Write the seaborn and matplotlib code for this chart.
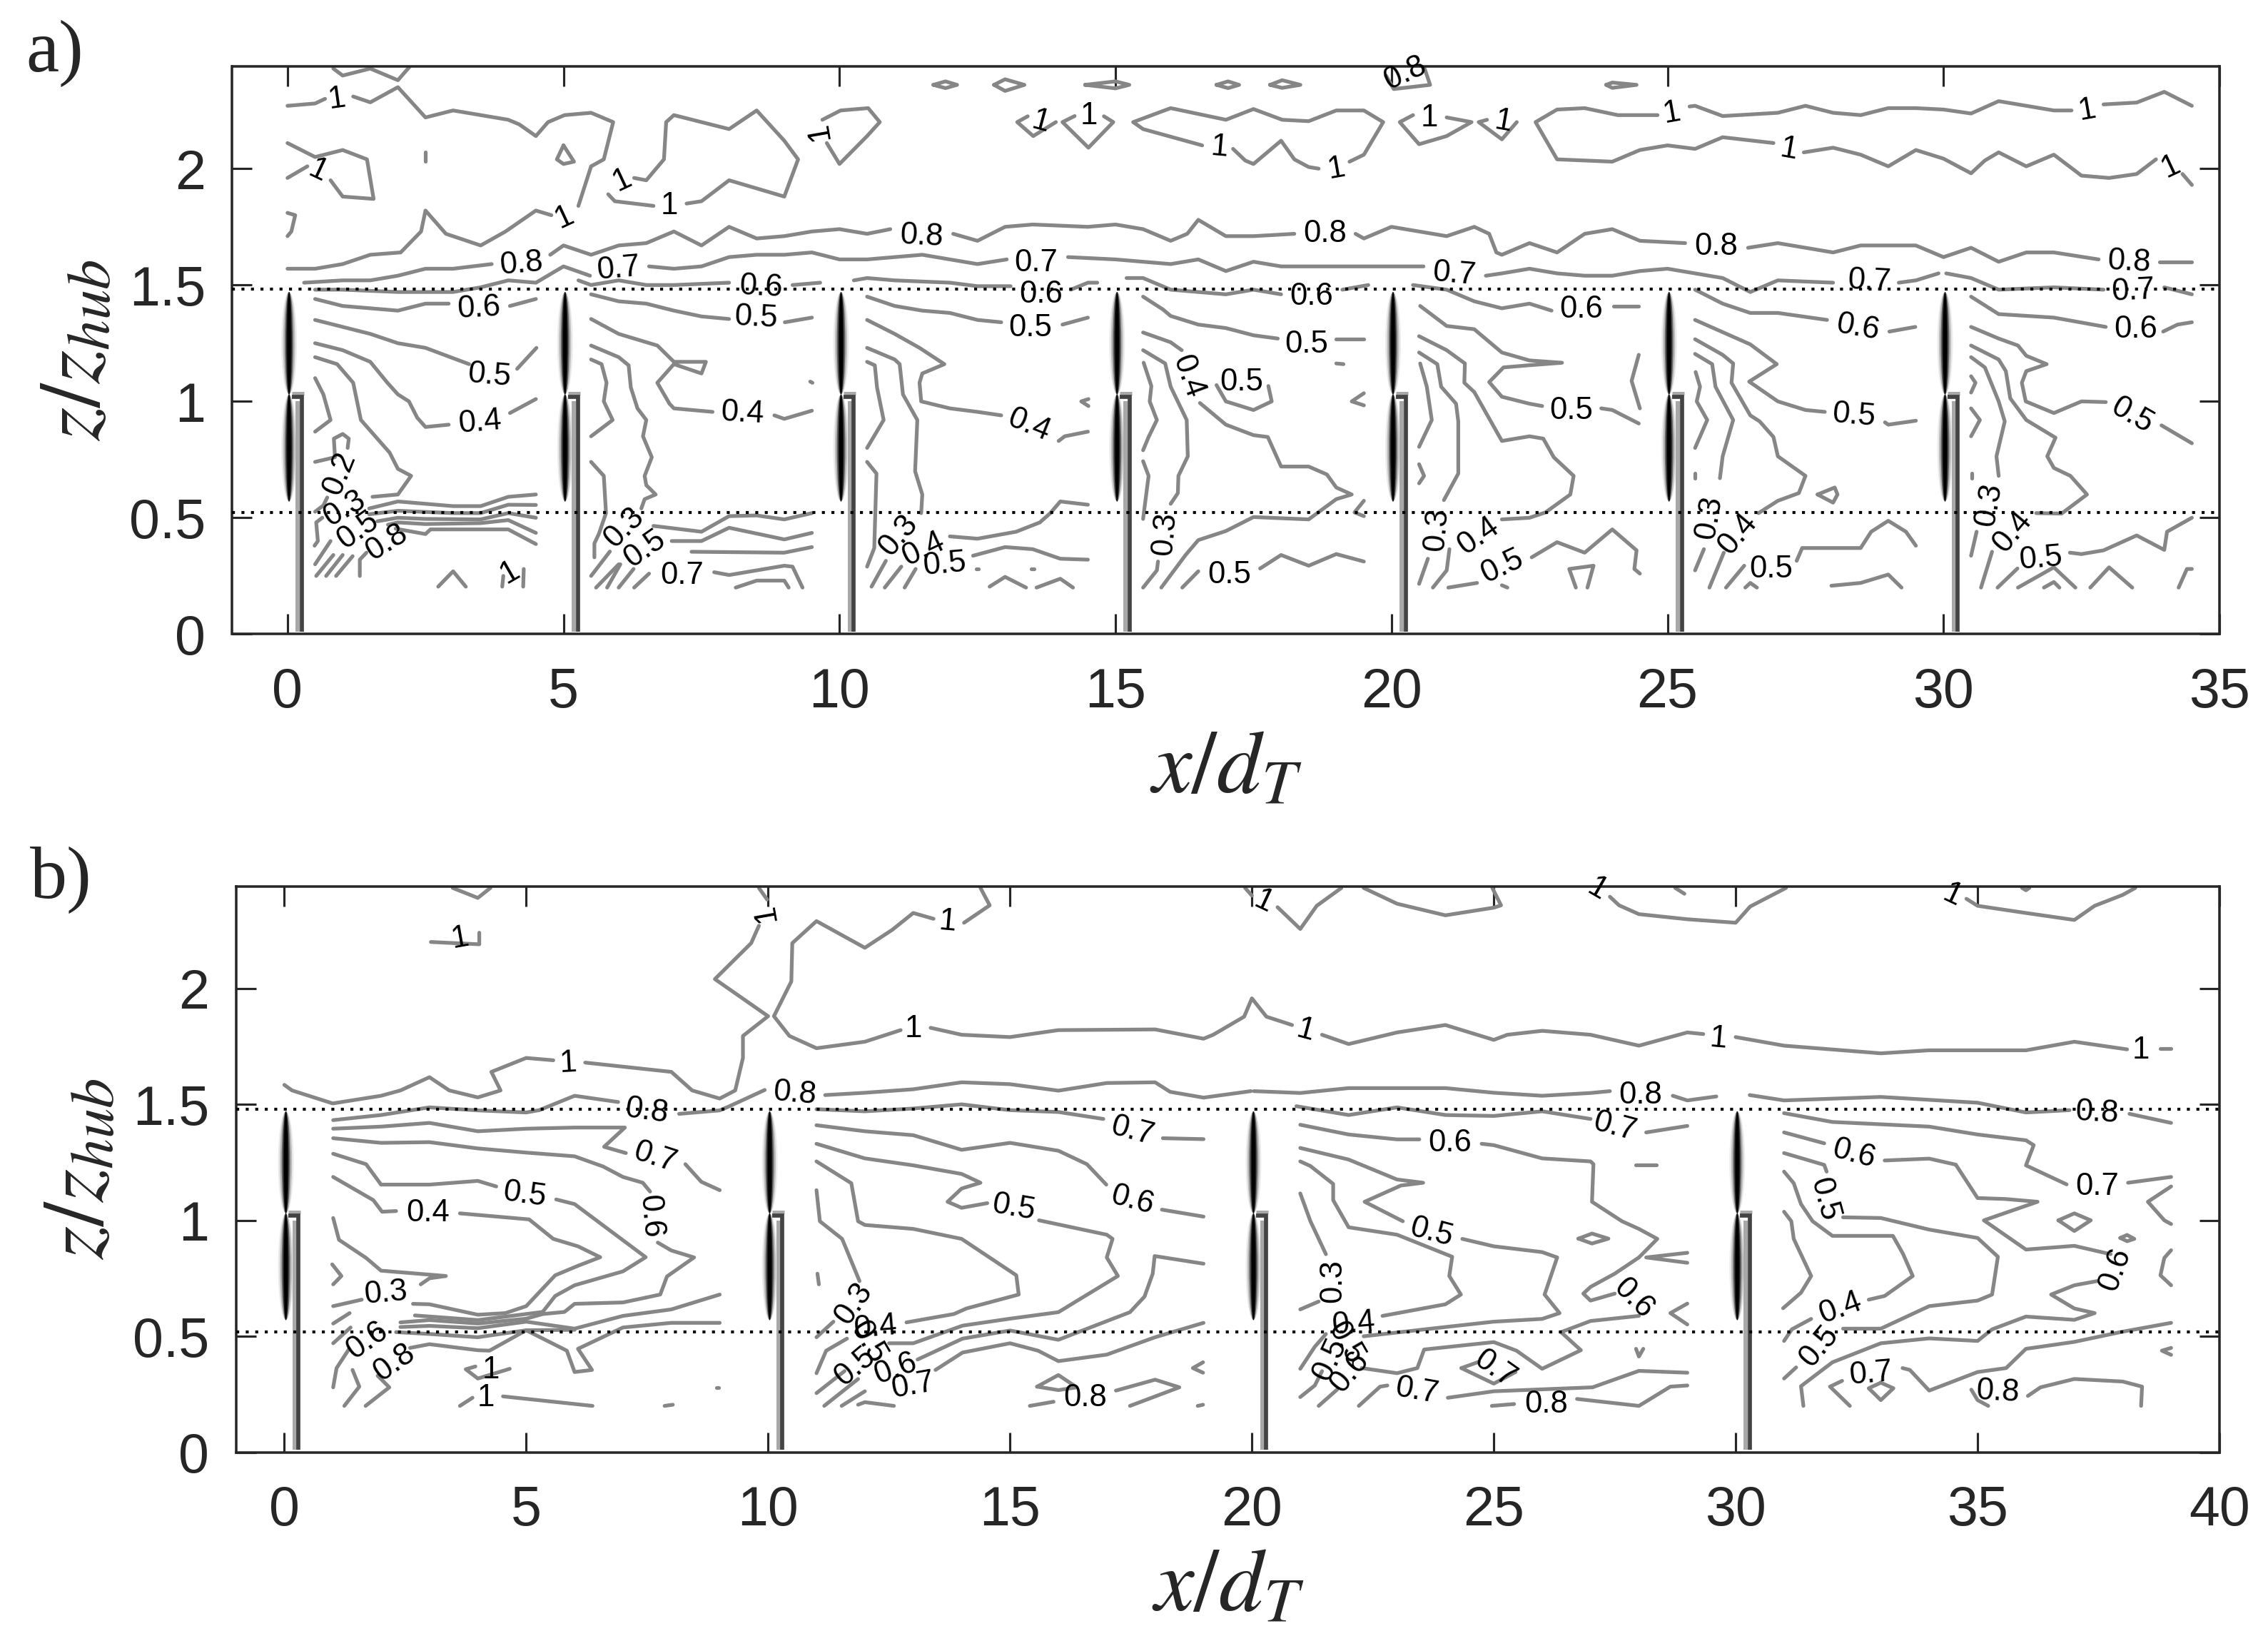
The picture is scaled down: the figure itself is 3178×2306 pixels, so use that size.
import matplotlib
matplotlib.use('Agg')
import matplotlib.pyplot as plt
import pandas as pd
import seaborn as sns
from matplotlib.patches import Ellipse

# ---- panel a) contour lines, (x/dT, z/zhub) ----
a_upper = [
    [(0,2.27),(.5,2.28),(.68,2.30)],
    [(1.19,2.31),(1.5,2.285),(2,2.35),(2.5,2.22),(3,2.25),(4,2.21),(4.2,2.19),(4.5,2.14),(4.72,2.2),(5.02,2.23),(5.5,2.24),(5.9,2.2),(5.73,2.04),(5.5,2.01),(5.27,1.84)],
    [(4.78,1.80),(4.5,1.82),(3.95,1.73),(3.5,1.67),(2.87,1.72),(2.5,1.82),(2.42,1.73),(2.05,1.64),(1.5,1.63),(1,1.59),(.5,1.57),(0,1.57)],
    [(.83,2.43),(1,2.4),(1.5,2.43),(2,2.38),(2.22,2.44)],
    [(0,2.11),(.5,2.05),(1,2.08),(1.44,2.04),(1.56,1.87),(1,1.88),(.78,1.95)],
    [(0,1.96),(.36,2.01)],
    [(0,1.81),(.14,1.80),(.07,1.73),(0,1.71)],
    [(2.5,2.07),(2.5,2.03)],
    [(5,2.10),(5.19,2.03),(5,2.02),(4.88,2.04),(5,2.10)],
    [(6.28,1.96),(6.5,1.95),(6.82,2.04),(6.86,2.2),(7,2.23),(8,2.17),(8.5,2.25),(9,2.12),(9.25,2.04),(9,1.88),(8,1.95),(7.5,1.86),(7.23,1.85)],
    [(5.81,1.89),(5.93,1.86),(6.63,1.84)],
    [(9.69,2.21),(10.02,2.25),(10.52,2.26),(10.73,2.2),(10.5,2.14),(10,2.02),(9.77,2.11)],
    [(13.41,2.225),(13.22,2.2),(13.51,2.14),(13.92,2.2)],
    [(14.26,2.226),(14.04,2.2),(14.51,2.09),(14.96,2.2),(14.79,2.225)],
    [(16.57,2.10),(15.5,2.17),(15.32,2.2),(16,2.26),(17,2.21),(17.5,2.256),(18.02,2.21),(18.5,2.204),(19,2.25),(19.5,2.25),(19.85,2.2),(19.5,2.06),(19.24,2.03)],
    [(18.68,2.0),(18.5,2.007),(18.24,2.04),(18,2.12),(17.5,2.02),(17.35,2.035),(17.13,2.085)],
    [(20.39,2.23),(20.15,2.2),(20.5,2.105),(21,2.14),(21.45,2.2),(21,2.22)],
    [(21.73,2.21),(21.58,2.2),(22,2.126),(22.27,2.2)],
    [(24.82,2.23),(24.1,2.23),(23.5,2.26),(23,2.254),(22.61,2.2),(23,2.04),(24,2.03),(24.5,2.08),(25,2.1),(25.5,2.085),(26,2.135),(26.92,2.11)],
    [(25.4,2.267),(25.5,2.27),(26,2.226),(27,2.24),(27.5,2.27),(28,2.24),(28.5,2.23),(29,2.26),(29.5,2.26),(30,2.254),(30.5,2.237),(31,2.29),(32,2.25),(32.32,2.25)],
    [(32.9,2.276),(33.5,2.284),(34,2.33),(34.5,2.27)],
    [(27.47,2.07),(28,2.09),(28.5,2.06),(29,2.01),(29.5,2.08),(30,2.043),(30.5,1.98),(30.75,2.035),(31,2.07),(31.5,2.01),(32,2.06),(32.5,1.97),(33,1.96),(33.5,1.977),(33.85,2.04)],
    [(34.33,1.977),(34.5,1.93)],
]
a_islands = [
    [(11.7,2.36),(11.92,2.375),(12.13,2.36),(11.92,2.346),(11.7,2.36)],
    [(12.8,2.36),(13,2.384),(13.35,2.36),(13,2.334),(12.8,2.36)],
    [(14.45,2.36),(15,2.375),(15.25,2.36),(15,2.345),(14.45,2.36)],
    [(16.83,2.36),(17.04,2.375),(17.24,2.36),(17.04,2.346),(16.83,2.36)],
    [(17.8,2.36),(18.02,2.38),(18.35,2.36),(18.02,2.347),(17.8,2.36)],
    [(19.9,2.4),(20.04,2.342),(20.7,2.36),(20.6,2.43)],
    [(23.89,2.36),(24,2.37),(24.44,2.36),(24,2.347),(23.89,2.36)],
]
a_level_08 = [
    [(.3,1.51),(1,1.52),(1.5,1.52),(2,1.54),(2.5,1.57),(3,1.57),(3.7,1.59)],
    [(4.76,1.63),(5,1.67),(5.5,1.63),(6,1.67),(6.5,1.68),(7,1.73),(7.5,1.67),(8,1.75),(8.5,1.70),(9,1.71),(9.5,1.73),(10,1.74),(10.5,1.72),(10.92,1.74)],
    [(12.06,1.72),(12.5,1.69),(13,1.75),(13.5,1.76),(14.5,1.75),(15,1.76),(15.5,1.74),(16,1.69),(16.3,1.72),(16.5,1.78),(17,1.71),(17.5,1.71),(18.24,1.72)],
    [(19.35,1.72),(19.5,1.70),(20,1.75),(21,1.71),(21.5,1.75),(21.77,1.72),(21.9,1.64),(22,1.63),(22.5,1.68),(23,1.64),(23.5,1.72),(24,1.74),(24.5,1.69),(25.32,1.68)],
    [(26.46,1.66),(27,1.68),(28,1.64),(28.5,1.67),(29.5,1.67),(30,1.62),(30.5,1.66),(31,1.60),(31.5,1.64),(32,1.64),(32.81,1.61)],
    [(33.92,1.60),(34.5,1.60)],
]
a_level_07 = [
    [(5.48,1.54),(5.0,1.58),(4.5,1.51),(4,1.52),(3.5,1.49),(3,1.47),(2,1.47),(1,1.48),(.5,1.48)],
    [(6.55,1.58),(7,1.57),(7.5,1.58),(8,1.62),(8.5,1.63),(9,1.63),(9.5,1.64),(10,1.61),(10.5,1.61),(11,1.62),(11.5,1.63),(12.5,1.59),(13.03,1.61)],
    [(14.14,1.62),(15,1.61),(16,1.59),(16.5,1.61),(17,1.56),(17.5,1.60),(18,1.58),(19,1.58),(20,1.58),(20.58,1.58)],
    [(21.71,1.54),(22,1.55),(22.5,1.57),(23,1.55),(23.5,1.54),(24,1.54),(24.5,1.56),(25,1.57),(25.5,1.55),(26,1.53),(26.5,1.47),(27,1.52),(28,1.51)],
    [(29.19,1.51),(29.5,1.52),(29.91,1.55)],
    [(30.05,1.55),(30.5,1.53),(31,1.48),(32,1.49),(32.9,1.48)],
    [(34,1.49),(34.5,1.46)],
]
a_level_06 = [
    [(5.27,1.52),(5.5,1.50),(6,1.52),(6.5,1.50),(7,1.50),(8,1.51)],
    [(9.15,1.50),(9.65,1.51)],
    [(10.26,1.52),(10.5,1.53),(11,1.52),(12,1.51),(12.5,1.495),(13.1,1.495)],
    [(14.19,1.48),(14.5,1.51),(14.67,1.51)],
    [(15.2,1.53),(15.5,1.53),(16,1.48),(17,1.46),(17.5,1.48),(18,1.46)],
    [(19.11,1.48),(19.58,1.50)],
    [(20.39,1.50),(21,1.48),(21.5,1.43),(22,1.40),(22.5,1.42),(22.9,1.39)],
    [(24.02,1.41),(24.48,1.41)],
    [(25.5,1.48),(26,1.42),(26.5,1.38),(27,1.38),(27.89,1.35)],
    [(29.02,1.30),(29.49,1.32)],
    [(30.5,1.45),(31,1.375),(32,1.36),(32.94,1.32)],
    [(33.98,1.30),(34.24,1.33),(34.5,1.34)],
]
a_span_0 = [
    [(.5,1.44),(1,1.41),(2,1.39),(2.5,1.42),(2.92,1.42)],
    [(4.03,1.41),(4.5,1.44)],
    [(.5,1.35),(1.5,1.29),(2,1.25),(2.5,1.23),(3.29,1.16)],
    [(4.16,1.14),(4.51,1.23)],
    [(.5,1.25),(1,1.22),(1.5,1.17),(1.81,1.08),(2,1.03),(2.2,1.0),(2.35,.93),(2.5,.89),(2.92,.90)],
    [(4.03,.95),(4.5,1.01)],
    [(.5,1.19),(.9,1.16),(1.19,1.08),(1.33,.92),(1.85,.78),(2,.71),(2.24,.68),(2,.60),(1.54,.59)],
    [(.5,1.10),(.65,1.03),(.78,.92),(.5,.87)],
    [(.5,.74),(.86,.76),(.84,.84),(1,.86),(1.11,.84),(1.09,.80)],
    [(.50,.526),(.65,.553),(.72,.587)],
    [(.63,.50),(.52,.48),(.55,.40),(.49,.38)],
    [(.78,.40),(.50,.30)],
    [(.83,.34),(.52,.25)],
    [(1.0,.34),(.70,.25)],
    [(1.18,.335),(.88,.25)],
    [(1.43,.35),(1.31,.32),(1.31,.25)],
    [(1.48,.54),(2,.57),(3,.55),(3.5,.55),(4,.59),(4.5,.60)],
    [(1.48,.515),(2,.53),(3,.52),(3.5,.52),(4,.556),(4.5,.555)],
    [(1.63,.485),(2,.50),(2.5,.495),(3.5,.493),(4,.52),(4.5,.50)],
    [(1.82,.47),(2,.48),(2.5,.473),(3.5,.477),(4,.49),(4.5,.435)],
    [(1.96,.453),(2.5,.43),(2.59,.45),(3.5,.45),(4,.45),(4.5,.387)],
    [(2.73,.204),(3,.27),(3.23,.204)],
    [(3.89,.204),(3.91,.25)],
    [(4.27,.204),(4.28,.28)],
]
a_span_5 = [
    [(5.5,1.46),(6,1.43),(6.5,1.42),(7,1.39),(7.5,1.365),(8,1.354)],
    [(9.01,1.34),(9.5,1.36)],
    [(5.5,1.354),(6,1.29),(6.7,1.24),(7,1.17),(7.58,1.17),(7.5,1.12),(7,1.16),(6.7,1.08),(6.92,.99),(7,.97),(7.7,.955)],
    [(8.82,.94),(9,.925),(9.5,.96)],
    [(9.47,1.085),(9.51,1.08)],
    [(5.5,1.24),(6,1.19),(6.18,1.155),(6.22,1.06),(6.34,.97),(6.5,.92),(6.44,.85),(6.6,.76),(6.47,.68),(6.5,.64),(6.67,.60),(6.47,.58),(6.41,.54)],
    [(5.5,1.18),(5.69,1.16),(5.78,1.08),(5.73,1.0),(5.89,.92),(5.5,.85)],
    [(5.5,.74),(5.73,.68),(5.77,.52),(5.64,.43),(5.56,.39),(5.56,.33)],
    [(5.84,.355),(5.5,.25)],
    [(6.0,.30),(5.59,.2)],
    [(6.03,.30),(5.79,.2)],
    [(6.27,.28),(6.0,.2)],
    [(6.55,.26),(6.28,.2)],
    [(6.63,.465),(7.5,.44),(8,.507),(8.5,.51),(9,.493),(9.5,.52)],
    [(6.96,.40),(7.5,.40),(8,.457),(9,.407),(9.5,.435)],
    [(7.32,.354),(9,.35),(9.5,.374)],
    [(7.73,.266),(8,.254),(9,.294),(9.15,.29),(9.33,.2)],
    [(8.12,.2),(8.5,.23),(9,.23),(9.08,.2)],
]
a_span_10 = [
    [(10.5,1.45),(11,1.41),(11.5,1.39),(12,1.38),(12.5,1.35),(12.93,1.34)],
    [(14.04,1.33),(14.5,1.36)],
    [(10.5,1.35),(11,1.29),(11.45,1.23),(11.9,1.16),(11.5,1.12),(11.45,1.08),(11.48,1.0),(12,.97),(12.5,.955),(12.93,.94)],
    [(13.97,.83),(14.08,.85),(14.5,.87)],
    [(10.5,1.23),(11,1.18),(11.09,1.16),(11.15,1.03),(11.41,.92),(11.37,.70),(11.5,.60),(11.48,.52)],
    [(10.5,1.17),(10.64,1.155),(10.68,1.06),(10.8,.92),(10.5,.80)],
    [(10.5,.74),(10.67,.69),(10.63,.37),(10.5,.29)],
    [(10.84,.315),(10.58,.204)],
    [(11.12,.29),(10.82,.2)],
    [(11.38,.28),(11.18,.2)],
    [(12,.42),(12.5,.41),(13.2,.44),(13.63,.48),(13.82,.52),(14,.57),(14.5,.556)],
    [(12.42,.337),(13,.374),(13.5,.365),(14,.324),(14.5,.32)],
    [(12.48,.28),(12.52,.28)],
    [(13.48,.28),(13.52,.28)],
    [(12.72,.204),(13,.246),(13.38,.2)],
    [(13.57,.2),(14,.238),(14.23,.2)],
    [(14.51,1.01),(14.38,1.0),(14.51,.98)],
]
a_span_15 = [
    [(15.5,1.45),(15.86,1.395),(16,1.367),(16.5,1.33),(17,1.315),(17.5,1.284),(17.94,1.27)],
    [(19,1.267),(19.5,1.267)],
    [(15.5,1.296),(16,1.254),(16.2,1.22)],
    [(16.53,.993),(17,.90),(17.5,.855),(17.76,.847),(18,.72),(18.5,.72),(18.83,.686),(19,.63),(19.28,.60),(19,.58),(18.5,.493),(17.5,.503),(17,.443),(16.5,.404),(16.27,.34),(15.83,.2)],
    [(16.83,1.07),(17,1.0),(17.5,.963),(17.83,1.0),(17.77,1.066)],
    [(15.5,1.22),(15.9,1.163),(16,1.063),(16.29,.92),(16.31,.764),(16.14,.68),(16.13,.606),(16,.56)],
    [(15.51,1.166),(15.65,1.066),(15.62,1.0),(15.75,.92),(15.6,.847),(15.5,.79)],
    [(15.5,.743),(15.6,.68),(15.5,.495)],
    [(15.77,.312),(15.75,.274),(15.5,.2)],
    [(16.5,.27),(16.21,.2)],
    [(17.62,.282),(18,.34),(18.5,.294),(19,.344),(19.5,.312)],
    [(19.5,1.035),(19.28,1.0),(19.5,.983)],
    [(19.5,.573),(19.33,.523),(19.5,.507)],
    [(19,1.163),(19.13,1.16)],
]
a_span_20 = [
    [(20.52,1.41),(21,1.324),(21.5,1.31),(22,1.21),(22.5,1.176),(23.09,1.166),(22.48,1.155),(22.03,1.146),(21.77,1.083),(22,1.02),(22.5,.99),(22.73,.98)],
    [(23.8,.97),(24,.963),(24.48,.905)],
    [(20.5,1.28),(21,1.22),(21.33,1.163),(21.32,1.08),(21.5,1.04),(22,.83),(22.5,.85),(22.75,.84),(22.94,.76),(23.3,.68),(23.24,.60),(22.79,.523),(22.5,.5),(22,.493)],
    [(20.5,1.21),(20.83,1.16),(20.9,1.063),(21.17,.99),(21.21,.914),(21.21,.69),(20.95,.576)],
    [(20.52,1.163),(20.64,1.063),(20.73,.92),(20.5,.805)],
    [(20.5,.73),(20.59,.68),(20.5,.648)],
    [(20.66,.324),(20.5,.216)],
    [(21.05,.365),(21,.274),(20.75,.2)],
    [(21.03,.2),(21.55,.22)],
    [(22.54,.33),(23,.395),(23.5,.35),(24,.45),(24.44,.36),(24.4,.28),(24.5,.26)],
    [(22,.21),(22.1,.2)],
    [(23.34,.2),(23.22,.28),(23.66,.294),(23.55,.2)],
    [(24.48,1.2),(24.35,1.088),(24.5,.97)],
]
a_span_25 = [
    [(25.5,1.35),(26.5,1.245),(26.98,1.16),(26.48,1.085),(27,1.0),(27.5,.963),(27.85,.955)],
    [(28.94,.91),(29,.9),(29.5,.917)],
    [(25.5,1.267),(26,1.2),(26.19,1.163),(26.16,1.08),(26.5,.94),(26.67,.914),(26.92,.847),(27,.764),(27.5,.68),(27.38,.606),(27,.573),(26.65,.52)],
    [(25.5,1.204),(25.81,1.16),(25.87,1.063),(26.19,.92),(26,.764),(25.95,.67)],
    [(25.51,1.126),(25.59,1.063),(25.53,1.0),(25.72,.92),(25.5,.80)],
    [(25.5,.69),(25.5,.67)],
    [(25.66,.365),(25.5,.274)],
    [(26.02,.35),(25.76,.2)],
    [(26.39,.294),(26.06,.2)],
    [(26.41,.2),(26.5,.22),(26.62,.2)],
    [(27.34,.315),(27.44,.37),(28.5,.37),(28.69,.44),(29,.487),(29.32,.44),(29.5,.38)],
    [(27.97,.208),(28.5,.22),(29,.256),(29.24,.2)],
    [(27.72,.60),(28.03,.63),(28.08,.60),(28,.565),(27.72,.60)],
]
a_span_30 = [
    [(30.5,1.32),(31,1.27),(31.35,1.24),(31.5,1.196),(31.87,1.16),(31.5,1.13),(31.42,1.08),(31.49,1.0),(32,.95),(32.5,1.0),(32.94,.997)],
    [(33.95,.897),(34.5,.82)],
    [(30.5,1.24),(31,1.18),(31.13,1.13),(31.21,1.013),(31.5,.92),(32.03,.844),(31.88,.764),(32,.714),(32.3,.68),(32.6,.60),(32.14,.518),(31.68,.52)],
    [(30.5,1.19),(30.75,1.146),(31,1.0),(31.11,.914),(30.96,.764),(31,.68)],
    [(30.5,1.108),(30.58,1.08),(30.5,1.038)],
    [(30.5,.97),(30.66,.92),(30.5,.85)],
    [(30.51,.69),(30.51,.67)],
    [(30.6,.44),(30.5,.337)],
    [(30.88,.354),(30.68,.2)],
    [(31.34,.282),(30.98,.2)],
    [(31.35,.2),(32,.287),(32.39,.2)],
    [(31.82,.2),(32,.224),(32.1,.2)],
    [(32.29,.35),(32.5,.344),(32.9,.36),(33.5,.424),(34,.362),(34.05,.44),(34.5,.5)],
    [(32.66,.2),(33,.287),(33.42,.2)],
    [(34.26,.2),(34.41,.28),(34.5,.28)],
]
a_labels = [
    ('1',.9,2.30,8),('1',.55,1.99,-25),('1',5.02,1.79,25),('1',6.06,1.95,25),('1',6.92,1.84,0),('1',9.63,2.16,100),
    ('0.8',4.24,1.59,5),('0.7',6.0,1.57,5),('0.6',8.57,1.49,-3),('0.6',3.47,1.40,3),('0.5',8.49,1.36,-3),('0.5',3.66,1.11,-5),
    ('0.4',3.48,.91,5),('0.4',8.24,.95,-3),('0.8',11.48,1.71,-3),('0.2',.94,.69,68),('0.3',1.04,.54,30),('0.5',1.28,.445,35),
    ('0.8',1.80,.394,32),('1',4.03,.266,30),('0.3',6.1,.457,45),('0.5',6.47,.365,35),('0.7',7.15,.25,0),
    ('0.3',11.07,.424,50),('0.4',11.52,.365,25),('0.5',11.9,.30,5),('0.7',13.56,1.595,0),('0.6',13.65,1.46,0),('0.5',13.46,1.316,0),('0.4',13.43,.897,-22),
    ('0.8',18.8,1.72,0),('0.7',21.14,1.545,-5),('0.6',18.55,1.45,0),('0.5',18.46,1.246,0),('0.4',16.31,1.105,-70),('0.5',17.29,1.083,0),('0.3',15.9,.432,85),('0.5',17.07,.254,0),
    ('1',13.65,2.2,-15),('1',14.52,2.226,0),('1',16.88,2.09,-5),('1',19,2.0,10),('1',20.69,2.218,0),('1',22.03,2.2,-10),('0.8',20.25,2.41,25),
    ('0.3',20.82,.45,85),('0.4',21.57,.42,35),('0.5',22,.29,25),('0.6',23.44,1.395,0),('0.5',23.26,.96,0),
    ('1',25.08,2.237,10),('1',27.2,2.08,-10),('1',32.6,2.25,10),('1',34.12,2.01,25),('0.8',25.88,1.664,0),('0.7',28.65,1.517,-3),('0.6',28.45,1.317,-10),('0.5',28.38,.94,-5),
    ('0.3',25.76,.50,80),('0.4',26.27,.43,50),('0.5',26.88,.28,0),('0.8',33.36,1.60,-3),('0.7',33.44,1.475,3),('0.6',33.48,1.31,0),('0.5',33.42,.94,-30),
    ('0.3',30.83,.556,80),('0.4',31.25,.44,50),('0.5',31.76,.324,5),
]

# ---- panel b) ----
b_upper = [
    [(3.48,2.433),(4,2.39),(4.26,2.433)],
    [(3.03,2.2),(4.03,2.19),(4.03,2.24)],
    [(0,1.584),(.16,1.56),(1,1.504),(2,1.537),(2.4,1.56),(3,1.617),(3.41,1.56),(4,1.53),(4.47,1.56),(4.28,1.64),(5,1.70),(5.56,1.69)],
    [(6.22,1.68),(8,1.64),(8.43,1.56),(9,1.525),(9.32,1.56),(9.48,1.70),(9.48,1.795),(10,1.88),(8.9,2.04),(9.65,2.195),(9.81,2.27)],
    [(9.98,2.383),(9.81,2.433)],
    [(13.42,2.30),(13,2.325),(12.57,2.253),(12,2.175),(11,2.29),(10.5,2.195),(10.48,2.03),(10.12,1.88),(10.44,1.795),(11,1.742),(12,1.77),(12.74,1.82)],
    [(14.05,2.283),(14.58,2.358),(14.39,2.433)],
    [(13.36,1.83),(14,1.80),(15,1.79),(16,1.82),(18,1.823),(19,1.783),(19.2,1.80),(19.84,1.878),(20,1.957),(20.3,1.878),(20.83,1.842)],
    [(21.45,1.8),(22,1.76),(23,1.81),(24,1.842),(25,1.778),(25.28,1.80),(26,1.817),(27,1.80),(28,1.753),(29,1.81),(29.33,1.803)],
    [(30,1.79),(31,1.753),(33,1.72),(34,1.733),(36,1.733),(37,1.77),(38.09,1.737)],
    [(38.77,1.742),(39,1.742)],
    [(19.86,2.433),(20,2.40)],
    [(20.53,2.35),(21,2.256),(21.34,2.356),(21.85,2.433)],
    [(22.31,2.433),(23,2.365),(24,2.315),(25,2.348),(25.15,2.358),(24.97,2.433)],
    [(27.4,2.395),(27.59,2.358),(28,2.32),(29,2.298),(30,2.283),(30.3,2.353),(31.04,2.433)],
    [(28.75,2.433),(28.94,2.408)],
    [(34.77,2.386),(35,2.356),(36,2.325),(37,2.295),(37.42,2.356),(38,2.403),(38.26,2.433)],
    [(35.92,2.433),(36,2.423),(36.07,2.433)],
]
b_level_08 = [
    [(1.01,1.432),(2,1.454),(3,1.487),(4,1.474),(5,1.465),(5.27,1.475),(6,1.537),(6.9,1.51)],
    [(8.16,1.459),(9,1.474),(9.18,1.49),(9.93,1.562)],
    [(11.18,1.54),(12,1.55),(13,1.565),(14,1.595),(15,1.587),(16,1.559),(17,1.592),(18,1.595),(18.31,1.554),(19,1.529),(19.98,1.557)],
    [(20.04,1.557),(21,1.549),(22,1.57),(23,1.57),(24,1.57),(25,1.55),(26,1.537),(27,1.549),(27.4,1.557)],
    [(28.7,1.537),(29,1.517),(29.6,1.534)],
    [(30.29,1.54),(31,1.517),(33,1.532),(35,1.507),(36,1.465),(36.9,1.475)],
    [(38.14,1.459),(39,1.42)],
]
b_span_0 = [
    [(1.01,1.395),(2,1.404),(3,1.42),(4,1.384),(5,1.395),(6,1.40),(7.04,1.40),(6.61,1.317),(7.06,1.29)],
    [(8.29,1.242),(8.62,1.166),(9,1.13)],
    [(1.01,1.354),(2,1.334),(3,1.337),(4,1.31),(5,1.292),(6,1.276),(6.59,1.232),(7,1.187),(7.41,1.162),(7.56,1.124)],
    [(7.72,.904),(8,.87),(8.47,.84),(7.91,.758),(7.77,.68),(7,.646),(6,.64),(5.79,.605),(5.34,.596),(5,.576),(4,.555),(3,.57),(2.4,.56)],
    [(1.01,1.287),(1.69,1.242),(2,1.154),(3,1.154),(4,1.17),(4.38,1.146)],
    [(5.62,1.09),(6,1.07),(7.47,.841),(7,.78),(6,.72),(5.6,.674),(5.34,.605),(4,.57),(2.7,.59)],
    [(1.01,1.187),(1.84,1.087),(2.02,1.037),(2.31,1.04)],
    [(3.63,1.03),(5.06,1.004),(5.56,.92),(6.07,.888),(6.53,.841),(6.07,.804),(5.6,.763),(5,.63),(4.57,.60),(4,.593),(3,.638),(2.66,.64)],
    [(1.01,1.01),(1.13,.916),(1.69,.838),(2,.783),(3.34,.76),(3,.75),(2.82,.724)],
    [(.99,.81),(1.18,.76),(1.01,.724)],
    [(1.01,.63),(1.6,.658)],
    [(1.01,.555),(1.35,.60)],
    [(9,.68),(8,.616),(7,.588),(6,.533),(5,.563),(4,.535),(3,.545),(2.4,.54)],
    [(2.31,.518),(3,.51),(4,.496),(5,.526),(6,.528)],
    [(9,.558),(8,.558),(7,.538),(6.07,.446),(6.36,.355),(6,.346),(5.84,.438),(5,.526),(4.24,.438),(4,.44),(3,.466),(2.6,.45)],
    [(1.01,.28),(1.08,.363),(1.34,.446)],
    [(1.01,.47),(1.37,.538)],
    [(1.41,.355),(1.55,.283),(1.24,.2)],
    [(1.93,.33),(2.17,.28),(1.68,.2)],
    [(3.95,.37),(3.75,.358),(4,.318),(4.66,.36)],
    [(3.63,.2),(3.89,.235)],
    [(4.52,.241),(6.37,.2)],
    [(7.86,.2),(8.03,.205)],
    [(8.94,.28),(8.98,.28)],
]
b_span_10 = [
    [(11,1.479),(12,1.47),(13,1.482),(14,1.5),(15,1.475),(16,1.467),(16.93,1.437)],
    [(18.16,1.354),(19,1.35)],
    [(11,1.41),(12,1.384),(13,1.367),(14,1.304),(15,1.334),(16,1.30),(16.59,1.242),(16.99,1.154)],
    [(18.14,1.046),(19,1.016)],
    [(11,1.33),(12,1.267),(13,1.237),(14,1.2),(14.39,1.162),(14.0,1.137),(13.71,1.08),(14,1.054),(14.53,1.074)],
    [(15.6,1.0),(17,.938),(17.12,.92),(17,.84),(17.23,.76),(16,.604),(15,.576),(14.02,.546),(13,.47),(12.5,.47)],
    [(11,1.254),(11.72,1.16),(11.86,.996),(12,.98),(13,.963),(14,.92),(15.13,.763),(15.18,.68),(14.1,.62),(13.84,.596),(12.86,.56)],
    [(11,1.13),(11.07,.996),(11.53,.92),(11.89,.738)],
    [(11.02,.77),(11.05,.724)],
    [(11,.496),(11.35,.563)],
    [(11,.341),(11.2,.438),(11.63,.49)],
    [(11,.255),(11.58,.35)],
    [(11.16,.2),(11.86,.316)],
    [(11.52,.2),(12,.263)],
    [(11.86,.205),(12,.216),(12.6,.2)],
    [(13.09,.40),(14.02,.49),(15,.525),(16,.485),(17.48,.604),(17.78,.671),(17.95,.77),(17.99,.846),(19,.813)],
    [(13.46,.355),(14.02,.43),(15,.47),(15.58,.438),(16,.393),(17,.421),(18,.496),(19,.558)],
    [(18.99,.388),(18.78,.363),(18.99,.343)],
    [(15.56,.283),(16,.333),(16.38,.28),(16,.268),(15.56,.283)],
    [(15.41,.2),(15.9,.218)],
    [(17.19,.266),(18,.313),(18.5,.28),(17.48,.2)],
    [(18.88,.2),(18.99,.205)],
]
b_span_20 = [
    [(20.92,1.492),(22,1.454),(23,1.487),(24,1.454),(25,1.45),(26,1.47),(27,1.437)],
    [(28.15,1.379),(29,1.407)],
    [(21,1.412),(22,1.37),(23,1.349),(23.46,1.349)],
    [(24.75,1.33),(25,1.324),(26,1.267),(27,1.254),(27.06,1.242),(27.03,1.08),(27.65,.996),(28,.963),(28.38,.92),(28,.84),(27.5,.77),(27,.713),(26.85,.684),(27,.654),(27.5,.684)],
    [(22.27,.363),(23,.341),(23.42,.363),(23.56,.443),(25,.475),(25.47,.438),(26,.36),(26.8,.44),(26.39,.518),(27,.566),(28,.588)],
    [(21,1.312),(22,1.262),(23,1.176),(23.54,1.162),(23.08,1.15),(22.33,1.08),(23.12,.996)],
    [(24.35,.92),(25,.888),(26,.863),(26.31,.84),(26.05,.68),(26.36,.6),(26,.575),(25,.563),(24,.54),(22.31,.50)],
    [(21,1.254),(21.21,1.234),(21.68,1.157),(21.68,1.087),(22,.97),(23,.938),(24.14,.843),(24.08,.76),(24.32,.68),(24,.638),(22.7,.588)],
    [(21,1.116),(21.21,.996),(21.53,.854)],
    [(21,.616),(21.38,.65)],
    [(21,.36),(21.3,.455),(21.53,.51)],
    [(21,.238),(21.3,.288),(21.45,.35)],
    [(21.38,.2),(21.76,.27)],
    [(22.21,.2),(22.65,.283),(22.8,.288)],
    [(24.05,.235),(25,.263),(27.04,.28),(28,.351),(29,.343)],
    [(29,.288),(28.65,.283),(28,.2),(26.72,.23)],
    [(25.42,.208),(24.96,.2)],
    [(24.33,.363),(24.69,.39)],
    [(24.33,.363),(25,.296),(25.45,.346)],
    [(27.93,1.239),(28.36,1.239)],
    [(26.75,.921),(27.03,.943),(27.37,.921),(27.03,.9),(26.75,.921)],
    [(29,.86),(28.15,.84),(29,.817)],
    [(29,.641),(28.65,.6),(29,.551)],
    [(27.94,.446),(28,.413),(28.09,.446)],
]
b_span_30 = [
    [(31,1.462),(32,1.424),(34,1.404),(35,1.37),(36,1.345),(36.16,1.324),(36,1.237),(36.84,1.155)],
    [(38.11,1.162),(39,1.187)],
    [(31,1.379),(31.83,1.332)],
    [(33.08,1.258),(34,1.266),(34.55,1.24),(35,1.096),(35.57,1.092),(36.24,1.08),(35.13,1.0),(36,.874),(37,.89),(37.75,.854)],
    [(37.47,.738),(37,.72),(36.52,.68),(37,.62),(37.42,.6),(37,.571),(36,.585),(35.3,.53),(35,.48),(34,.491),(33,.47),(32,.388),(31.35,.285),(31.4,.2)],
    [(31,1.29),(31.83,1.239),(31.88,1.21)],
    [(31,1.21),(31.2,1.16),(31.35,1.07),(31.59,.996),(32,.933),(33.25,.933),(33.46,.855),(33.66,.76),(33.08,.674),(32.75,.658)],
    [(32.22,1.013),(33,1.01),(34,.96),(35,.924),(35.42,.843),(35.3,.68),(35,.654),(34,.63),(33,.533),(32.22,.533)],
    [(31,1.037),(31.15,.996),(31.2,.92),(31.56,.76),(31.35,.688),(30.98,.621)],
    [(31,.48),(31.16,.53),(31.56,.575)],
    [(31,.318),(31.25,.366)],
    [(32.2,.308),(31.95,.283),(32.36,.2)],
    [(33,.30),(33.26,.276),(33,.225),(32.75,.276),(33,.30)],
    [(33.45,.363),(33.6,.355),(34,.266),(35,.346),(35.59,.363),(36,.446),(37,.476),(38,.52),(39,.558)],
    [(34.87,.27),(35,.225),(35.22,.2)],
    [(36.04,.243),(36.3,.28),(37,.316),(38,.305),(38.4,.283),(38.38,.2)],
    [(36.67,1.0),(37,1.03),(37.34,1.0),(37,.954),(36.67,1.0)],
    [(37.95,.924),(38.09,.937),(38.24,.92),(38.09,.91),(37.95,.924)],
    [(39,1.146),(38.52,1.08),(38.86,1.0),(39,.984)],
    [(39,.871),(38.86,.838),(38.78,.763),(39,.72)],
    [(39,.45),(38.81,.438),(39,.42)],
]
b_labels = [
    ('1',3.63,2.216,10),('1',5.87,1.675,3),('1',9.95,2.325,100),('1',13.71,2.287,-5),('1',13,1.824,0),('1',20.24,2.373,-25),('1',21.11,1.817,-15),
    ('1',27.13,2.425,-30),('1',34.48,2.40,-25),('1',29.64,1.783,-5),('1',38.38,1.733,0),('1',4.27,.355,0),('1',4.16,.233,0),
    ('0.3',2.1,.684,5),('0.6',1.71,.48,35),('0.8',2.28,.385,35),('0.4',2.97,1.03,0),('0.5',4.96,1.11,-8),('0.7',7.66,1.27,-18),('0.6',7.56,1.017,-85),('0.8',7.49,1.47,-8),('0.8',10.55,1.545,-5),
    ('0.7',17.53,1.384,-15),('0.6',17.53,1.087,-15),('0.5',15.07,1.054,-10),('0.8',16.55,.235,0),('0.3',11.77,.64,55),('0.4',12.21,.538,5),('0.5',12.07,.475,-60),('0.5',11.8,.37,40),('0.6',12.64,.358,20),('0.7',13,.288,10),
    ('0.7',27.5,1.404,-15),('0.8',26.08,.208,0),('0.6',27.88,.663,-45),('0.8',28.03,1.54,0),('0.6',24.09,1.332,0),('0.5',23.71,.946,-15),('0.7',23.41,.263,-10),('0.3',21.67,.74,90),('0.4',22.1,.554,5),('0.5',21.93,.47,-60),('0.5',21.62,.40,65),('0.6',22.02,.346,50),('0.7',25.03,.36,-35),
    ('0.8',37.47,1.462,-3),('0.7',37.47,1.146,0),('0.6',32.44,1.287,-15),('0.5',31.83,1.09,-75),('0.6',37.85,.788,70),('0.4',32.17,.621,20),('0.5',31.73,.455,50),('0.7',32.79,.338,5),('0.8',35.42,.26,-3),
]

a_lines = a_upper + a_islands + a_level_08 + a_level_07 + a_level_06 + a_span_0 + a_span_5 + a_span_10 + a_span_15 + a_span_20 + a_span_25 + a_span_30
b_lines = b_upper + b_level_08 + b_span_0 + b_span_10 + b_span_20 + b_span_30

a_turbines = [0, 5, 10, 15, 20, 25, 30]
b_turbines = [0, 10, 20, 30]
a_xticks = [0, 5, 10, 15, 20, 25, 30, 35]
b_xticks = [0, 5, 10, 15, 20, 25, 30, 35, 40]
yticks = [0, .5, 1, 1.5, 2]
ytick_labels = ['0', '0.5', '1', '1.5', '2']
rotor_edges_a = [.5216, 1.482]
rotor_edges_b = [.518, 1.48]

sns.set_theme(style='ticks')
plt.rcParams['font.family'] = ['Liberation Sans', 'DejaVu Sans']
plt.rcParams['mathtext.fontset'] = 'stix'
DARK = '#262626'
W, H = 3179, 2306


def lines_frame(lines):
    rows = []
    for i, seg in enumerate(lines):
        for x, z in seg:
            rows.append({'x': x, 'z': z, 'seg': i})
    return pd.DataFrame(rows)


def draw_turbine(ax, x0, px):
    # px = picture pixels per x unit, the turbine keeps its pixel size in both panels
    for zc, h in ((1.25, .44), (.80, .46)):
        for w, a in ((22, .08), (17, .2), (12, .45), (8, .7), (5, 1)):
            ax.add_patch(Ellipse((x0 + 2.2 / px, zc), w / px, h, fc='black', ec='none', alpha=a, zorder=3))
    ax.plot([x0 + 6 / px, x0 + 23 / px], [1.036, 1.036], color='#a8a8a8', lw=1.2, solid_capstyle='butt', zorder=3)
    ax.plot([x0 + 14.3 / px, x0 + 14.3 / px], [1.0, .01], color='#a8a8a8', lw=1.44, solid_capstyle='butt', zorder=3)
    ax.plot([x0 + 6 / px, x0 + 20 / px, x0 + 20 / px], [1.02, 1.02, .01], color='#444444', lw=1.37,
            solid_capstyle='butt', solid_joinstyle='miter', zorder=4)


def draw_panel(ax, lines, labels, turbines, edges, xlim, xticks, px):
    sns.lineplot(data=lines_frame(lines), x='x', y='z', units='seg', estimator=None, sort=False,
                 color='#868686', lw=1.25, legend=False, ax=ax, zorder=2)
    for x0 in turbines:
        draw_turbine(ax, x0, px)
    for e in edges:
        ax.axhline(e, color='black', lw=1.0, ls=(0, (1, 2.2)), zorder=5)
    for txt, x, z, rot in labels:
        ax.text(x, z, txt, fontsize=10.5, color='black', rotation=rot, ha='center', va='center',
                rotation_mode='anchor', zorder=6)
    ax.set_xlim(*xlim)
    ax.set_ylim(0, 2.44)
    ax.set_xticks(xticks)
    ax.set_xticklabels([str(t) for t in xticks])
    ax.set_yticks(yticks)
    ax.set_yticklabels(ytick_labels)
    ax.tick_params(direction='in', top=True, right=True, length=6.8, width=.75, color=DARK,
                   labelsize=18.5, labelcolor=DARK)
    ax.tick_params(axis='x', pad=11)
    ax.tick_params(axis='y', pad=9)
    for s in ax.spines.values():
        s.set_linewidth(.85)
        s.set_color(DARK)
    ax.set_xlabel('$x/d_T$', fontsize=30, color=DARK, labelpad=3)
    ax.set_ylabel('$z/z_{hub}$', fontsize=29, color=DARK, labelpad=4)


fig = plt.figure(figsize=(W / 300, H / 300), dpi=300)
ax_a = fig.add_axes([325.5 / W, 1 - 888.4 / H, (3110 - 325.5) / W, (888.4 - 92.8) / H])
ax_b = fig.add_axes([330.6 / W, 1 - 2034.6 / H, (3110 - 330.6) / W, (2034.6 - 1241.7) / H])
draw_panel(ax_a, a_lines, a_labels, a_turbines, rotor_edges_a, (-1, 35), a_xticks, 77.3)
draw_panel(ax_b, b_lines, b_labels, b_turbines, rotor_edges_b, (-1, 40), b_xticks, 67.7)

fig.text(36 / W, 1 - 100 / H, 'a)', fontsize=25, family='Liberation Serif', color=DARK)
fig.text(42 / W, 1 - 1258 / H, 'b)', fontsize=25, family='Liberation Serif', color=DARK)

fig.savefig('out.png', dpi=300)
